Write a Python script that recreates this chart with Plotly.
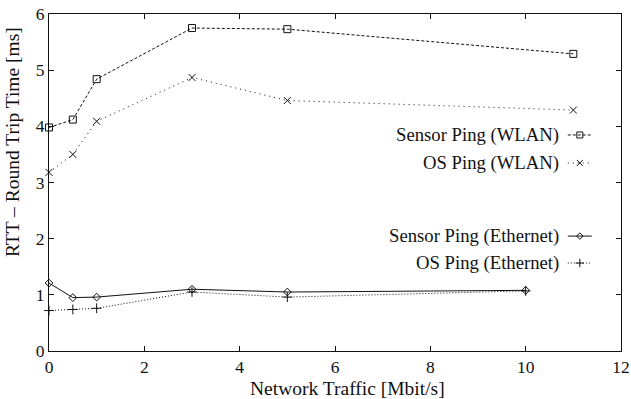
import plotly.graph_objects as go

# ---- data ----
x_wlan = [0, 0.5, 1, 3, 5, 11]
sensor_wlan = [3.98, 4.12, 4.84, 5.75, 5.73, 5.29]
os_wlan = [3.18, 3.50, 4.09, 4.87, 4.46, 4.29]

x_eth = [0, 0.5, 1, 3, 5, 10]
sensor_eth = [1.21, 0.95, 0.96, 1.10, 1.05, 1.08]
os_eth = [0.72, 0.74, 0.76, 1.05, 0.96, 1.07]

series_names = ["Sensor Ping (WLAN)", "OS Ping (WLAN)",
                "Sensor Ping (Ethernet)", "OS Ping (Ethernet)"]
x_ticks = [0, 2, 4, 6, 8, 10, 12]
y_ticks = [0, 1, 2, 3, 4, 5, 6]
x_title = "Network Traffic [Mbit/s]"
y_title = "RTT – Round Trip Time [ms]"

FONT = "Liberation Serif, Times New Roman, serif"
INK = "#111111"

styles = [
    dict(dash="3px,2px", symbol="square-open", size=7),
    dict(dash="1px,4px", symbol="x-thin-open", size=7),
    dict(dash="solid", symbol="diamond-open", size=6),
    dict(dash="1px,2px", symbol="cross-thin-open", size=7),
]
xs = [x_wlan, x_wlan, x_eth, x_eth]
ys = [sensor_wlan, os_wlan, sensor_eth, os_eth]

fig = go.Figure()
for name, x, y, st in zip(series_names, xs, ys, styles):
    fig.add_trace(go.Scatter(
        x=x, y=y, mode="lines+markers", name=name, showlegend=False,
        cliponaxis=False,
        line=dict(color=INK, width=1, dash=st["dash"]),
        marker=dict(symbol=st["symbol"], size=st["size"], color=INK,
                    line=dict(color=INK, width=1)),
    ))

# ---- gnuplot-style key (text on the left, sample on the right) ----
key_y = [0.641, 0.558, 0.341, 0.261]
for name, ky, st in zip(series_names, key_y, styles):
    fig.add_trace(go.Scatter(
        x=[0.907, 0.949], y=[ky, ky], xaxis="x2", yaxis="y2",
        mode="lines", showlegend=False, hoverinfo="skip",
        line=dict(color=INK, width=1, dash=st["dash"]),
    ))
    fig.add_trace(go.Scatter(
        x=[0.928], y=[ky], xaxis="x2", yaxis="y2",
        mode="markers", showlegend=False, hoverinfo="skip",
        marker=dict(symbol=st["symbol"], size=st["size"] - 1, color=INK,
                    line=dict(color=INK, width=1)),
    ))
    fig.add_annotation(
        x=0.893, y=ky, xref="x2", yref="y2", text=name, showarrow=False,
        xanchor="right", yanchor="middle", borderpad=0,
        font=dict(family=FONT, size=18.7, color=INK),
    )

# axis titles
fig.add_annotation(x=0.522, y=0, xref="paper", yref="paper", text=x_title,
                   showarrow=False, xanchor="center", yanchor="middle",
                   yshift=-37, font=dict(family=FONT, size=19.5, color=INK))
fig.add_annotation(x=0, y=0.62, xref="paper", yref="paper", text=y_title,
                   showarrow=False, xanchor="center", yanchor="middle",
                   textangle=-90, xshift=-37,
                   font=dict(family=FONT, size=19.5, color=INK))

axis_common = dict(
    showgrid=False, zeroline=False, showline=True, mirror="ticks",
    linecolor=INK, linewidth=1, ticks="inside", ticklen=5, tickwidth=1,
    tickcolor=INK, tickfont=dict(family=FONT, size=17.5, color=INK),
    automargin=False,
)

fig.update_layout(
    width=631, height=399,
    margin=dict(l=49, r=10, t=14, b=48),
    paper_bgcolor="white", plot_bgcolor="white",
    font=dict(family=FONT, size=18, color=INK),
    xaxis=dict(range=[0, 12], tickvals=x_ticks, **axis_common),
    yaxis=dict(range=[0, 6], tickvals=y_ticks, **axis_common),
    xaxis2=dict(overlaying="x", range=[0, 1], visible=False),
    yaxis2=dict(overlaying="y", range=[0, 1], visible=False),
    showlegend=False,
)

fig.write_html("out.html")
